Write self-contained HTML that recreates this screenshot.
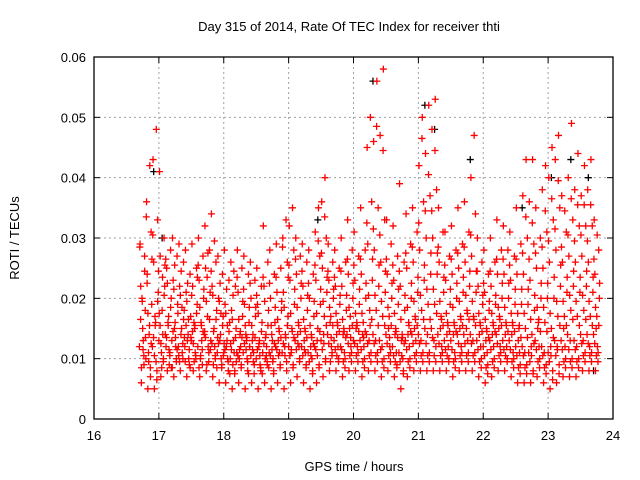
<!DOCTYPE html>
<html><head><meta charset="utf-8"><style>
body{margin:0;background:#fff}
svg{display:block}
text{font-family:"Liberation Sans",Arial,sans-serif;fill:#000}
</style></head><body>
<svg id="chart" width="640" height="480" viewBox="0 0 640 480" xmlns="http://www.w3.org/2000/svg">
<rect width="640" height="480" fill="#fff"/>
<text x="349" y="31" font-size="13" text-anchor="middle">Day 315 of 2014, Rate Of TEC Index for receiver thti</text>
<g id="grid"></g>
<g id="points"></g>
<g id="axes"></g>
<text x="354" y="471" font-size="13" text-anchor="middle">GPS time / hours</text>
<text x="19" y="238" font-size="13" text-anchor="middle" transform="rotate(-90 19 238)">ROTI / TECUs</text>
</svg>
<script>
const xTicks=[16,17,18,19,20,21,22,23,24];
const yTicks=[0,0.01,0.02,0.03,0.04,0.05,0.06];
const yTickLabels=["0","0.01","0.02","0.03","0.04","0.05","0.06"];
const binStart=16.7, binWidth=0.1;
// values in units of 0.001 TECU per 0.1 h bin
const redBins=[
[6,9,12,15,18,22,27,29,13,20],[5,7,10,14,19,24,31,36,42,11],[5,8,12,16,21,26,33,43,48,17],
[7,10,13,18,22,27,30,41,14,11],[8,11,14,17,20,25,28,12,9,16],[7,10,13,16,19,23,27,30,12,15],
[8,10,12,15,18,22,26,29,11,14],[7,9,12,14,17,21,24,28,10,13],[8,10,13,15,19,22,25,29,11,16],
[7,9,12,16,20,23,27,30,13,10],[8,11,14,17,21,25,28,32,12,9],[7,10,13,15,18,22,26,34,12,9],
[6,9,11,14,17,20,24,27,10,13],[6,8,11,13,16,19,23,28,10,12],[5,8,10,13,15,18,22,26,11,9],
[6,9,11,14,17,21,25,28,12,10],[5,8,11,13,16,19,24,27,10,14],[6,9,12,14,17,20,23,26,11,13],
[5,8,10,13,16,19,22,25,9,12],[6,9,11,14,18,22,26,32,12,10],[5,8,11,13,16,20,24,28,10,14],
[6,9,12,15,18,21,25,29,11,13],[5,8,11,14,17,21,26,30,33,12],[6,9,12,15,19,23,28,32,35,11],
[7,10,13,16,20,24,27,30,12,14],[6,9,12,15,18,22,26,29,11,13],[5,8,11,14,17,20,24,28,10,12],
[6,9,12,15,19,23,27,31,35,13],[7,10,13,17,21,25,30,36,40,14],[8,11,14,17,20,23,26,29,12,16],
[8,10,13,16,19,22,25,28,12,14],[7,10,12,15,18,22,26,30,11,14],[8,11,14,17,20,24,28,33,12,15],
[8,11,13,16,19,23,27,31,12,15],[7,10,13,16,20,24,28,35,12,14],[8,11,14,18,23,29,36,45,50,13],
[8,11,14,18,22,28,35,46,56,13],[7,10,13,17,21,26,33,47,58,12],[8,11,14,17,20,24,29,33,12,15],
[7,9,12,15,19,23,27,32,11,14],[5,8,11,14,18,22,26,39,10,13],[7,10,13,16,20,25,29,34,12,14],
[8,11,14,17,21,26,31,35,13,15],[8,11,14,18,23,28,36,42,50,13],[8,11,15,19,24,30,37,44,52,14],
[8,12,15,19,24,30,38,48,53,13],[8,11,14,17,21,26,31,35,12,15],[8,10,13,16,19,23,27,31,12,14],
[7,10,13,16,20,24,28,32,11,14],[8,11,14,17,21,25,29,35,12,15],[8,11,14,18,22,26,31,36,13,15],
[8,11,14,17,21,27,34,40,47,13],[7,10,13,16,19,22,26,30,12,14],[6,9,12,15,18,21,24,28,11,13],
[7,10,13,16,19,22,26,30,12,14],[8,11,14,17,20,24,28,33,12,15],[8,10,13,16,20,24,28,32,12,14],
[7,10,13,16,19,23,27,31,11,14],[6,9,12,15,19,24,29,35,11,13],[6,9,12,15,19,24,30,37,43,11],
[6,8,11,14,18,23,29,36,43,12],[7,10,13,16,20,25,30,35,12,15],[6,9,12,16,20,25,31,38,42,11],
[5,8,11,15,20,26,33,40,45,12],[6,9,13,17,22,28,35,43,47,12],[7,10,13,17,21,26,31,37,12,15],
[7,10,14,18,22,27,33,40,49,13],[7,10,13,17,21,26,32,38,44,12],[8,11,14,18,22,27,32,37,42,13],
[8,11,14,17,21,26,32,38,43,12],[8,11,14,17,20,24,28,33,12,15]];
// second pass of readings (denser core of the cloud), units of 0.001 TECU
const redBins2=[
[10.5,16.5,24.5,8.5,13.5,19.5,28.5,11.5],[8.5,22.5,12.5,17.5,26.5,9.5,33.5,15.5],[6.5,13.5,19.5,10.5,24.5,15.5,30.5,9.5],
[9.5,15.5,20.5,12.5,25.5,8.5,17.5,23.5],[10.5,13.5,18.5,22.5,8.5,15.5,26.5,11.5],[9.5,14.5,11.5,21.5,17.5,25.5,8.5,13.5],
[12.5,9.5,16.5,20.5,13.5,24.5,10.5,18.5],[11.5,15.5,8.5,19.5,13.5,22.5,9.5,16.5],[10.5,14.5,17.5,12.5,23.5,9.5,20.5,15.5],
[11.5,8.5,14.5,18.5,21.5,10.5,25.5,15.5],[9.5,13.5,16.5,19.5,11.5,23.5,14.5,27.5],[10.5,12.5,16.5,20.5,8.5,14.5,24.5,29.5],
[8.5,12.5,15.5,19.5,10.5,22.5,13.5,17.5],[9.5,11.5,14.5,17.5,7.5,21.5,12.5,15.5],[7.5,11.5,13.5,16.5,9.5,20.5,12.5,24.5],
[8.5,10.5,13.5,16.5,19.5,11.5,23.5,14.5],[9.5,12.5,7.5,15.5,18.5,11.5,21.5,13.5],[7.5,10.5,13.5,15.5,18.5,11.5,22.5,9.5],
[8.5,11.5,14.5,17.5,7.5,12.5,20.5,10.5],[9.5,12.5,15.5,19.5,8.5,13.5,23.5,10.5],[7.5,10.5,12.5,15.5,18.5,11.5,22.5,9.5],
[8.5,11.5,13.5,16.5,19.5,10.5,23.5,14.5],[9.5,12.5,15.5,18.5,23.5,10.5,28.5,13.5],[8.5,10.5,13.5,17.5,21.5,11.5,25.5,14.5],
[9.5,11.5,14.5,18.5,22.5,12.5,26.5,15.5],[8.5,10.5,13.5,16.5,20.5,11.5,24.5,14.5],[7.5,9.5,12.5,15.5,19.5,10.5,22.5,13.5],
[8.5,11.5,14.5,17.5,21.5,10.5,25.5,29.5],[9.5,11.5,15.5,19.5,23.5,12.5,27.5,33.5],[10.5,12.5,15.5,18.5,21.5,9.5,24.5,13.5],
[9.5,11.5,14.5,17.5,20.5,10.5,23.5,15.5],[8.5,11.5,13.5,16.5,20.5,9.5,24.5,14.5],[9.5,12.5,15.5,18.5,22.5,10.5,26.5,13.5],
[9.5,12.5,14.5,17.5,21.5,10.5,25.5,15.5],[8.5,11.5,14.5,17.5,22.5,9.5,26.5,13.5],[9.5,12.5,16.5,20.5,26.5,10.5,32.5,15.5],
[9.5,12.5,15.5,20.5,25.5,10.5,31.5,48.5],[8.5,11.5,15.5,19.5,24.5,9.5,30.5,44.5],[9.5,12.5,15.5,18.5,22.5,10.5,26.5,13.5],
[8.5,10.5,13.5,17.5,21.5,9.5,25.5,14.5],[7.5,9.5,12.5,16.5,20.5,10.5,24.5,13.5],[8.5,11.5,14.5,18.5,22.5,9.5,27.5,15.5],
[9.5,12.5,15.5,19.5,23.5,10.5,28.5,16.5],[9.5,12.5,16.5,20.5,25.5,10.5,32.5,46.5],[9.5,12.5,16.5,21.5,27.5,10.5,34.5,40.5],
[9.5,13.5,17.5,21.5,27.5,10.5,34.5,44.5],[9.5,12.5,15.5,19.5,23.5,10.5,28.5,16.5],[9.5,11.5,14.5,17.5,21.5,10.5,25.5,15.5],
[8.5,11.5,14.5,18.5,22.5,9.5,26.5,15.5],[9.5,12.5,15.5,19.5,23.5,10.5,27.5,16.5],[9.5,12.5,16.5,20.5,24.5,10.5,28.5,17.5],
[9.5,12.5,15.5,19.5,24.5,10.5,30.5,16.5],[8.5,11.5,14.5,17.5,20.5,9.5,24.5,15.5],[7.5,10.5,13.5,16.5,19.5,8.5,22.5,14.5],
[8.5,11.5,14.5,17.5,20.5,9.5,24.5,15.5],[9.5,12.5,15.5,18.5,22.5,10.5,26.5,16.5],[9.5,11.5,14.5,18.5,22.5,10.5,26.5,15.5],
[8.5,11.5,14.5,17.5,21.5,9.5,25.5,15.5],[7.5,10.5,13.5,17.5,21.5,8.5,26.5,15.5],[7.5,10.5,13.5,17.5,21.5,8.5,27.5,33.5],
[7.5,9.5,12.5,16.5,20.5,10.5,26.5,32.5],[8.5,11.5,14.5,18.5,22.5,9.5,27.5,16.5],[7.5,10.5,14.5,18.5,22.5,8.5,28.5,34.5],
[6.5,9.5,13.5,17.5,23.5,10.5,29.5,36.5],[7.5,10.5,15.5,19.5,25.5,11.5,31.5,39.5],[8.5,11.5,15.5,19.5,23.5,9.5,28.5,34.5],
[8.5,11.5,16.5,20.5,24.5,9.5,30.5,36.5],[8.5,11.5,15.5,19.5,23.5,9.5,29.5,35.5],[9.5,12.5,16.5,20.5,24.5,10.5,30.5,35.5],
[9.5,12.5,15.5,19.5,23.5,10.5,29.5,35.5],[9.5,12.5,15.5,18.5,22.5,10.5,26.5,30.5]];
const blackTimes=[16.92,17.05,20.3,21.1,21.25,21.8,23.05,23.35,23.62,23.7,19.45,22.6];
const blackValues=[0.041,0.03,0.056,0.052,0.048,0.043,0.04,0.043,0.04,0.008,0.033,0.035];

const X0=94,X1=613,Y0=419,Y1=57;
const xs=t=>X0+(t-16)/(24-16)*(X1-X0);
const ys=v=>Y0-(v-0)/(0.06-0)*(Y0-Y1);
const NS="http://www.w3.org/2000/svg";
const grid=document.getElementById('grid'),axes=document.getElementById('axes'),pts=document.getElementById('points');
function mk(tag,attrs,parent){const e=document.createElementNS(NS,tag);for(const k in attrs)e.setAttribute(k,attrs[k]);parent.appendChild(e);return e;}

xTicks.forEach((t,i)=>{
  const x=xs(t);
  if(i>0&&i<xTicks.length-1){const g=mk('line',{x1:x,y1:Y1,x2:x,y2:Y0,stroke:'#a0a0a0','stroke-dasharray':'2,3'},grid);
  
  }
  mk('line',{x1:x,y1:Y0,x2:x,y2:Y0-6,stroke:'#000'},axes);
  mk('line',{x1:x,y1:Y1,x2:x,y2:Y1+6,stroke:'#000'},axes);
  const l=mk('text',{x:x,y:Y0+21,'font-size':13,'text-anchor':'middle'},axes);l.textContent=t;
  
  
});
yTicks.forEach((v,i)=>{
  const y=ys(v);
  if(i>0&&i<yTicks.length-1){const g=mk('line',{x1:X0,y1:y,x2:X1,y2:y,stroke:'#a0a0a0','stroke-dasharray':'2,3'},grid);
  
  }
  mk('line',{x1:X0,y1:y,x2:X0+6,y2:y,stroke:'#000'},axes);
  mk('line',{x1:X1,y1:y,x2:X1-6,y2:y,stroke:'#000'},axes);
  const l=mk('text',{x:X0-8,y:y+5,'font-size':13,'text-anchor':'end'},axes);l.textContent=yTickLabels[i];
  
  
});
const fr=mk('rect',{x:X0,y:Y1,width:X1-X0,height:Y0-Y1,fill:'none',stroke:'#000','stroke-width':1.3},axes);



function plus(t,v,color,name){
  const x=xs(t),y=ys(v);
  const p=mk('path',{d:`M${x-3.5},${y}H${x+3.5}M${x},${y-3.5}V${y+3.5}`,stroke:color,'stroke-width':1.3,fill:'none'},pts);
  
  
}
blackTimes.forEach((t,i)=>plus(t,blackValues[i],'#000','black-point'));
const order=[3,7,0,5,9,2,8,1,6,4];
redBins.forEach((bin,i)=>{
  const t0=binStart+i*binWidth;
  bin.forEach((v,j)=>{plus(t0+order[j]*binWidth/bin.length,v/1000,'#f00','red-point');});
});
const order2=[5,1,6,2,7,3,0,4];
redBins2.forEach((bin,i)=>{
  const t0=binStart+i*binWidth+0.006;
  bin.forEach((v,j)=>{plus(t0+order2[j]*binWidth/bin.length,v/1000,'#f00','red-point');});
});
</script>
</body></html>
